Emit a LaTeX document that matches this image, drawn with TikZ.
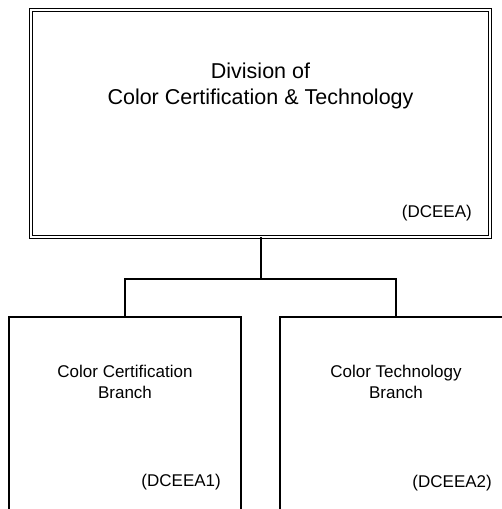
\documentclass[tikz,border=0pt]{standalone}
\usepackage{fontspec}
\setmainfont{Liberation Sans}
\usetikzlibrary{positioning}

\begin{document}
\begin{tikzpicture}[x=1pt, y=-1pt,
    division/.style={rectangle, draw=black, line width=1.3pt, double, double distance=2.2pt,
                     minimum width=459pt, minimum height=227pt, inner sep=0pt, outer sep=0pt},
    branch/.style={rectangle, draw=black, line width=1.7pt, minimum width=232pt,
                   minimum height=192.5pt, inner sep=0pt, outer sep=0pt},
    divtitle/.style={align=center, inner sep=0pt, font=\fontsize{21.5}{26}\selectfont, anchor=base},
    brtitle/.style={align=center, inner sep=0pt, font=\fontsize{17}{21}\selectfont, anchor=base},
    unitcode/.style={inner sep=0pt, font=\fontsize{17}{21}\selectfont, anchor=base east},
    link/.style={draw=black, line width=1.8pt}
]
    \useasboundingbox (0,0) rectangle (502,509);
    \clip (0,0) rectangle (502,509);

    % division box
    \node[division] (div) at (260.5,123.5) {};
    \node[divtitle] (divname) at (260.5,104) {Division of\\Color Certification \& Technology};
    \node[unitcode] (divcode) at (472,217) {(DCEEA)};

    % branch boxes (cut off at the bottom and right)
    \node[branch] (cert) at (125,413.25) {};
    \node[branch] (tech) at (396,413.25) {};
    \node[brtitle] (certname) at (125,398) {Color Certification\\Branch};
    \node[brtitle] (techname) at (396,398) {Color Technology\\Branch};
    \node[unitcode] (certcode) at (221,486) {(DCEEA1)};
    \node[unitcode] (techcode) at (492,487) {(DCEEA2)};

    % connectors
    \coordinate (bus) at (261,279);
    \draw[link] (div.south -| bus) -- (bus);
    \draw[link] (bus) -| (cert.north);
    \draw[link] (bus) -| (tech.north);
\end{tikzpicture}
\end{document}
